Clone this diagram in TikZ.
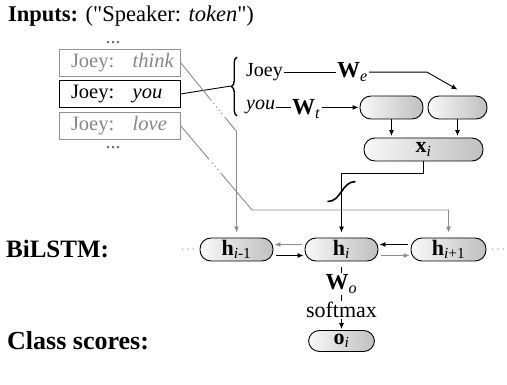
\documentclass[tikz,border=0pt]{standalone}
\usepackage{fontspec}
\setmainfont{Liberation Serif}[Ligatures=TeXOff]
\usetikzlibrary{arrows.meta,calc,decorations.pathreplacing}

\begin{document}
\begin{tikzpicture}[x=1pt,y=-1pt,
  every node/.style={font=\fontsize{21}{25}\selectfont},
  lbl/.style={font=\fontsize{25}{29}\selectfont\bfseries, anchor=west, inner sep=0pt},
  wfont/.style={font=\fontsize{23}{27}\selectfont, inner sep=1pt},
  side/.style={anchor=base west, inner sep=1pt, font=\fontsize{20}{24}\selectfont},
  pill/.style={draw=black, line width=0.9pt, rounded corners=11pt, minimum height=23pt,
    left color=gray!5, right color=gray!50, inner sep=0pt, font=\fontsize{22}{26}\selectfont},
  tok/.style={draw, line width=0.9pt, minimum height=27pt, minimum width=121pt,
    inner xsep=12pt, inner ysep=0pt, font=\fontsize{20.5}{24}\selectfont},
  faint/.style={draw=gray!85, text=gray!95},
  vdots/.style={text=gray!80!black, inner sep=0pt, font=\fontsize{20}{24}\selectfont},
  gdots/.style={text=gray, inner sep=0pt, font=\fontsize{12}{14}\selectfont},
  conn/.style={line width=0.9pt},
  arr/.style={conn, -{Latex[length=6pt,width=5pt]}},
  greyline/.style={conn, draw=gray!90},
  dotseg/.style={greyline, dash pattern=on 1.2pt off 3pt}
]
\useasboundingbox (0,0) rectangle (507,385);

% headings
\node[lbl, font=\fontsize{22.5}{26}\selectfont\bfseries] (inputs) at (8,17) {Inputs:};
\node[anchor=base west, inner sep=0pt, font=\fontsize{22.5}{26}\selectfont] (fmt)
  at ([xshift=7pt]inputs.base east) {("Speaker: \textit{token}")};
\node[lbl] (bilstm) at (6,249.5) {BiLSTM:};
\node[lbl, font=\fontsize{26}{30}\selectfont\bfseries] (cls) at (7,341) {Class scores:};

% input tokens
\node[vdots] (dtop) at (113,43) {...};
\node[tok, faint] (think) at (119.5,62.5) {\makebox[97pt][l]{Joey:\hspace{0.9em}\textit{think}}};
\node[tok] (you) at (119.5,94) {\makebox[97pt][l]{Joey:\hspace{0.9em}\textit{you}}};
\node[tok, faint] (love) at (119.5,125.5) {\makebox[97pt][l]{Joey:\hspace{0.9em}\textit{love}}};
\node[vdots] (dbot) at (113,148) {...};

% speaker / token split
\coordinate (btip) at (231,86);
\draw[line width=1.4pt, decorate, decoration={brace, amplitude=5.5pt}] (237,116) -- (237,57);
\draw[conn] (you.east) -- (btip);
\node[side] (wj) at (245,76.5) {Joey};
\node[side] (wy) at (245,110) {\textit{you}};
\node[wfont, anchor=base west] (we) at (336,78) {\textbf{W}\textsubscript{\textit{e}}};
\node[wfont, anchor=base west] (wt) at (291,115) {\textbf{W}\textsubscript{\textit{t}}};

% embedding boxes
\node[pill, minimum width=63pt] (lbox) at (391.5,107.5) {};
\node[pill, minimum width=59pt] (rbox) at (457.5,107.5) {};
\node[pill, minimum width=119pt] (xbox) at (423.5,149.5) {\textbf{x}\textsubscript{\textit{i}}};

\coordinate (wecol) at (427,0);
\draw[conn] (wj.east) -- (wj.east -| we.west);
\draw[arr] (wj.east -| we.east) -- (wj.east -| wecol) -- ([yshift=6pt]rbox.north);
\draw[conn] (wy.east) -- (wy.east -| wt.west);
\draw[arr, shorten >=1pt] (wy.east -| wt.east) -- (wy.east -| lbox.west);
\draw[arr, shorten >=1.5pt] (lbox.south) -- (lbox.south |- xbox.north);
\draw[arr, shorten >=1.5pt] (rbox.south) -- (rbox.south |- xbox.north);

% BiLSTM layer
\node[pill, minimum width=73pt] (hm) at (236.5,249.5) {\textbf{h}\textsubscript{\textit{i}-1}};
\node[pill, minimum width=73pt] (hi) at (341.5,249.5) {\textbf{h}\textsubscript{\textit{i}}};
\node[pill, minimum width=75pt] (hp) at (448.5,249.5) {\textbf{h}\textsubscript{\textit{i}+1}};
\node[gdots] (ldots) at (188,249.5) {$\cdots$};
\node[gdots] (rdots) at (498,249.5) {$\cdots$};

\draw[arr, greyline, shorten <=3pt, shorten >=1pt] ([yshift=5pt]hi.west) -- ([yshift=5pt]hm.east);
\draw[arr, shorten <=3pt, shorten >=1pt] ([yshift=-6pt]hm.east) -- ([yshift=-6pt]hi.west);
\draw[arr, shorten <=3pt, shorten >=1pt] ([yshift=5pt]hp.west) -- ([yshift=5pt]hi.east);
\draw[arr, greyline, shorten <=3pt, shorten >=1pt] ([yshift=-6pt]hi.east) -- ([yshift=-6pt]hp.west);

% word vector into h_i, through the nonlinearity
\draw[arr, shorten >=5pt] (xbox.south) -- ++(0,12) -| (hi.north);
\path (hi.north) ++(0,-46) coordinate (sig);
\draw[line width=1.6pt] ($(sig)+(-14,10)$) .. controls ($(sig)+(0,10)$) and ($(sig)+(0,-10)$) .. ($(sig)+(14,-10)$);

% context tokens into neighbouring states
\path (hm.north) ++(0,-106) coordinate (tkb);
\draw[greyline] (think.east) -- ($(think.east)!0.55!(tkb)$);
\draw[dotseg] ($(think.east)!0.59!(tkb)$) -- ($(think.east)!0.76!(tkb)$);
\draw[arr, greyline, shorten >=5pt] ($(think.east)!0.79!(tkb)$) -- (tkb) -- (hm.north);

\coordinate (lvb) at (252,210);
\draw[greyline] (love.east) -- ($(love.east)!0.40!(lvb)$);
\draw[dotseg] ($(love.east)!0.44!(lvb)$) -- ($(love.east)!0.53!(lvb)$);
\draw[arr, greyline, shorten >=5pt] ($(love.east)!0.56!(lvb)$) -- (lvb) -| (hp.north);

% output
\node[wfont] (wo) at (341.5,284) {\textbf{W}\textsubscript{\textit{o}}};
\node[inner sep=1pt, font=\fontsize{22}{26}\selectfont] (sm) at (341.5,310) {softmax};
\node[pill, minimum width=66pt, minimum height=21pt] (oi) at (341.5,341) {\textbf{o}\textsubscript{\textit{i}}};
\draw[conn, shorten <=6pt] (hi.south) -- (wo.north);
\draw[conn] (wo.south) -- (sm.north);
\draw[arr, shorten >=1pt] (sm.south) -- (oi.north);
\end{tikzpicture}
\end{document}
